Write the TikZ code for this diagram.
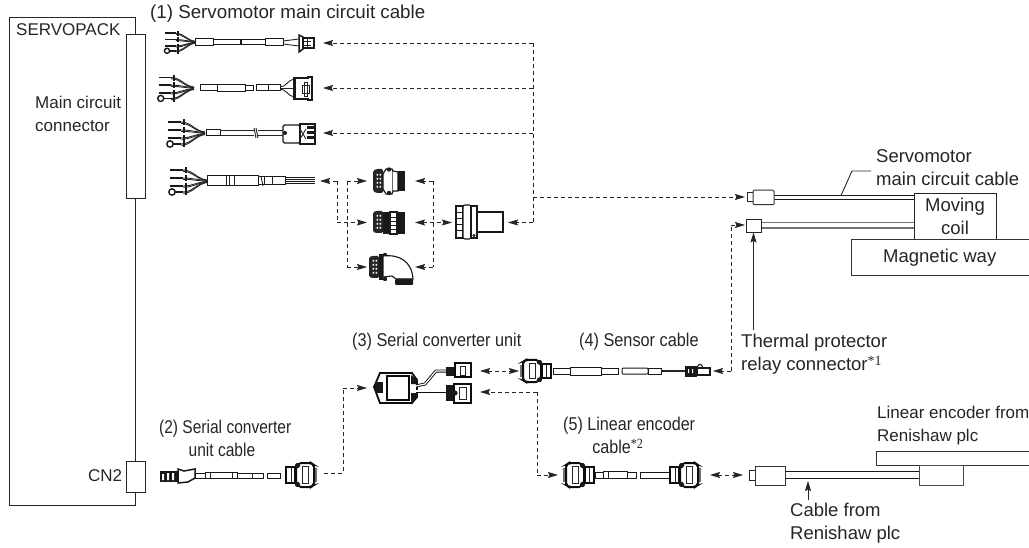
\documentclass[tikz,border=0pt]{standalone}
\usepackage{fontspec}
\setmainfont{Liberation Sans}
\newfontfamily\supfont{Liberation Serif}
\usetikzlibrary{arrows.meta}
\newcommand{\starmark}[1]{\raisebox{5.5pt}{\supfont\fontsize{14}{14}\selectfont *#1}}
\tikzset{
  lab/.style={inner sep=0pt,anchor=north west,align=left,text=black!85,font=\fontsize{18.5}{23}\selectfont},
  labs/.style={lab,font=\fontsize{17}{23}\selectfont},
  labn/.style={lab,xscale=#1,transform shape},
  box/.style={draw=black!85,line width=0.9pt,fill=white,inner sep=0pt},
  dashline/.style={draw=black!85,line width=0.9pt,dash pattern=on 4pt off 3pt},
  tip/.style={-{Stealth[length=10pt,width=6pt,inset=1.5pt]},draw=black!85,line width=0.9pt},
  tipdash/.style={dashline,-{Stealth[length=10pt,width=6pt,inset=1.5pt]}},
  tipboth/.style={dashline,{Stealth[length=10pt,width=6pt,inset=1.5pt]}-{Stealth[length=10pt,width=6pt,inset=1.5pt]}},
  wire/.style={draw=black!90,line width=1.8pt},
  thin/.style={draw=black!85,line width=0.9pt},
  tube/.style={draw=black!90,line width=1pt,fill=white},
}
% fan of four conductors that ends at the local origin
\newcommand{\wirefan}[3]{\begin{scope}[shift={(#1,#2)},scale=#3]
  \foreach \dy/\sy in {-11/-2,-3/-1,5/1,11/2}{
    \draw[thin] (-24,\dy) .. controls (-14,\dy) and (-10,\sy) .. (0,0.5*\sy);
    \draw[thin] (-24,\dy+1.3) .. controls (-14,\dy+1.3) and (-10,\sy+1) .. (0,0.5*\sy+0.5);
    \fill[black!90] (-22,\dy-3) rectangle (-19.8,\dy+3.5);
  }
  \foreach \dy in {-11,-3,5}{\draw[wire] (-37,\dy) -- (-24,\dy);}
  \draw[wire] (-32,11) -- (-24,11);
  \draw[line width=1.4pt,draw=black!90] (-35,11) circle (3.2);
\end{scope}}
% D-type connector; local origin at the middle of its left edge
\newcommand{\dconn}[4]{\begin{scope}[shift={(#1,#2)},xscale=#3,yscale=#4]
  \fill[black!55] (0,-7) rectangle (3,7);
  \draw[line width=2pt,draw=black!95,fill=white,rounded corners=2pt] (3,-10) -- (6,-12) -- (18,-12) -- (21,-8) -- (21,8) -- (18,12) -- (6,12) -- (3,10) -- cycle;
  \draw[line width=0.9pt,draw=black!85,fill=white] (9,-8.5) rectangle (15,8.5);
  \draw[line width=1.8pt,draw=black!95,fill=white] (22,-8) rectangle (31,8);
  \draw[line width=0.9pt,draw=black!85] (26,-8) -- (26,8);
  \fill[black!90] (19.5,-9.5) circle (2.6) (19.5,9.5) circle (2.6);
\end{scope}}
% block of contacts, facing left
\newcommand{\pinblock}[3]{\begin{scope}[shift={(#1,#2)}]
  \fill[black!85,rounded corners=1.5pt] (0,-10) -- (3,-#3) -- (10,-#3) -- (10,#3) -- (3,#3) -- (0,10) -- cycle;
  \foreach \yy in {-7,-3,1,5}{\fill[white] (3.5,\yy) rectangle (5,\yy+1.6) (6.5,\yy) rectangle (8,\yy+1.6);}
\end{scope}}
\begin{document}
\begin{tikzpicture}[x=1pt,y=-1pt]
\useasboundingbox (0,0) rectangle (1029,548);
\fill[white] (0,0) rectangle (1029,548);

% SERVOPACK
\node[box,fill=none,minimum width=126pt,minimum height=488pt] (servopack) at (72,261) {};
\node[box,minimum width=19pt,minimum height=164pt] (mainconn) at (135.5,116) {};
\node[box,minimum width=19pt,minimum height=31pt] (cn2) at (135.5,476.5) {};
\node[labs] (tservo) at (16,23) {SERVOPACK};
\node[labs] (tmain) at (35,96) {Main circuit\\connector};
\node[labs] (tcn2) at (88,469) {CN2};
\node[lab,font=\fontsize{18.75}{23}\selectfont] (t1) at (150,5) {(1) Servomotor main circuit cable};

% cable 1
\wirefan{195}{42}{0.8}
\draw[tube] (195,39) rectangle (213,46);
\draw[tube] (213,40) rectangle (240,45);
\draw[tube] (241,40) rectangle (265,45);
\draw[tube] (265,39) rectangle (283,46);
\draw[thin] (283,41) -- (299,39) (283,44) -- (299,46);
\draw[line width=1.5pt,draw=black!90,fill=white] (299,35) -- (303,37) -- (303,49) -- (299,52) -- cycle;
\draw[line width=1.2pt,draw=black!90,fill=white] (303,38) rectangle (314,48);
\draw[thin] (303,41) -- (311,41) (303,45) -- (311,45) (307,38) -- (307,48);
% cable 2
\wirefan{194}{88}{0.95}
\draw[tube] (200,85) rectangle (217,91);
\draw[tube] (217,84.5) rectangle (245,91.5);
\draw[tube] (245,85.5) rectangle (253,90.5);
\draw[tube] (256,85) rectangle (268,91);
\draw[tube] (268,85) rectangle (280,91);
\draw[thin] (280,87) .. controls (286,87) and (288,80) .. (294,79);
\draw[thin] (280,88) -- (294,88);
\draw[thin] (280,89) .. controls (286,89) and (288,96) .. (294,97);
\draw[line width=1.3pt,draw=black!90,fill=white] (294,78) -- (308,78) -- (308,77) -- (312,77) -- (312,100) -- (308,100) -- (308,99) -- (294,99) -- cycle;
\draw[thin] (302,85) rectangle (309,93);
\draw[thin] (304,82) rectangle (307,96);
\fill[black!90] (294,78) rectangle (296,99);
% cable 3
\wirefan{205}{133}{1}
\draw[tube] (206,130) rectangle (220,136);
\draw[draw=black!85,line width=1pt] (220,130.5) -- (254,130.5) (258,130.5) -- (283,130.5) (220,135.5) -- (254,135.5) (258,135.5) -- (283,135.5);
\draw[thin] (254,128) -- (256,138) (256,128) -- (258,138);
\draw[line width=1.2pt,draw=black!90,fill=white,rounded corners=1.5pt] (283,125) rectangle (300,143);
\fill[black!90] (285,133) circle (2);
\draw[line width=1.5pt,draw=black!90,fill=white] (300,124) rectangle (315,144);
\foreach \yy in {128,133,138}{\fill[black!90] (307,\yy-1.5) rectangle (315,\yy+1.5);}
\draw[thin] (300,129) -- (306,139) (300,139) -- (306,129);
% cable 4
\wirefan{207}{181}{1}
\draw[tube] (207,176) rectangle (226,186);
\draw[tube] (226,176) rectangle (258,186);
\draw[thin] (229,176) -- (229,186) (234,176) -- (234,186);
\draw[tube] (264,177) rectangle (285,185);
\draw[tube] (258,177) -- (264,177) (258,185) -- (264,185);
\draw[thin] (261,176) -- (263,186);
\draw[thin] (272,177) -- (272,185);
\foreach \yy in {177.5,179.5,181.5,183.5}{\draw[line width=0.9pt,draw=black!90] (285,\yy) -- (315,\yy);}

% middle connectors
\pinblock{373}{181}{12}
\draw[line width=1.2pt,draw=black!90,fill=white] (383,174) -- (386,169) -- (392,169) -- (393,171) -- (393,191) -- (392,194) -- (386,194) -- (383,189) -- cycle;
\fill[black!90] (389,169.5) circle (2.2) (389,193) circle (2.2);
\draw[line width=1.2pt,draw=black!90,fill=white] (393,171) -- (398,172) -- (398,191) -- (393,191);
\fill[black!90] (398,171) rectangle (405,191);
\pinblock{373}{222}{11}
\fill[black!90] (383,212) rectangle (390,234);
\draw[line width=1.1pt,draw=black!90,fill=white] (390,212) rectangle (397,234);
\foreach \yy in {217,221,225,229}{\draw[thin] (390,\yy) -- (397,\yy);}
\fill[black!90] (397,212) rectangle (405,234);
\pinblock{369}{267}{11}
\fill[black!90] (379,254) rectangle (383,280);
\fill[black!90] (385,255) circle (2.2) (385,279) circle (2.2);
\draw[line width=1.1pt,draw=black!90,fill=white] (383,256) .. controls (400,254) and (412,262) .. (413,279) -- (396,279) -- (392,276) -- (383,277) -- cycle;
\fill[black!90,rounded corners=1pt] (395,279) rectangle (413,285);
% big connector
\draw[line width=1.1pt,draw=black!90,fill=white] (477,212) rectangle (503,232);
\draw[line width=1.1pt,draw=black!90,fill=white] (456,206) rectangle (463,238);
\foreach \yy in {212,218,224,230}{\draw[line width=0.9pt,draw=black!90] (456,\yy) -- (463,\yy);}
\draw[line width=1.1pt,draw=black!90,fill=white,rounded corners=2pt] (463,205) rectangle (471,239);
\draw[line width=1.1pt,draw=black!90,fill=white] (471,206) rectangle (477,238);
\fill[black!90] (474,235.5) circle (1.7);

% connector end points
\coordinate (bus1) at (533,43);
\coordinate (bus2) at (533,88);
\coordinate (bus3) at (533,133);
\coordinate (bus4) at (533,197);
\coordinate (bus5) at (533,222.5);
\coordinate (e1) at (323,43);
\coordinate (e2) at (323,88);
\coordinate (e3) at (323,133);
\coordinate (e4) at (320,181);
\coordinate (j1) at (337,181);
\coordinate (j2) at (337,222.5);
\coordinate (a1) at (367,181);
\coordinate (a2) at (367,222.5);
\coordinate (a3) at (367,267);
\coordinate (b0) at (347,181);
\coordinate (b3) at (347,267);
\coordinate (c1) at (415,181);
\coordinate (c2) at (415,222.5);
\coordinate (c3) at (415,267);
\coordinate (d1) at (433,181);
\coordinate (d3) at (433,267);
\coordinate (big) at (452,222.5);
\coordinate (bigr) at (508,222.5);
\coordinate (mcplug) at (745,197);

% dashed lines, main circuit
\draw[tipdash] (bus1) -- (e1);
\draw[tipdash] (bus2) -- (e2);
\draw[tipdash] (bus3) -- (e3);
\draw[dashline] (bus1) -- (bus5);
\draw[tipdash] (bus5) -- (bigr);
\draw[tipdash] (bus4) -- (mcplug);
\draw[tipdash] (j1) -- (e4);
\draw[dashline] (j1) -- (j2);
\draw[tipdash] (j2) -- (a2);
\draw[tipdash] (b0) -- (a1);
\draw[dashline] (b0) -- (b3);
\draw[tipdash] (b3) -- (a3);
\draw[tipdash] (d1) -- (c1);
\draw[dashline] (d1) -- (d3);
\draw[tipdash] (d3) -- (c3);
\draw[tipboth] (c2) -- (big);

% moving coil and magnetic way
\draw[line width=1pt,draw=black!90] (774,195.5) -- (914,195.5) (774,200) -- (914,200);
\draw[line width=1.3pt,draw=black!55] (762,222.5) -- (914,222.5) (762,228) -- (914,228);
\node[box,minimum width=82pt,minimum height=46pt,align=center,font=\fontsize{18.5}{23}\selectfont,text=black!85] (coil) at (955,216) {Moving\\coil};
\draw[draw=black!80,line width=0.9pt] (1029,239) -- (851,239) -- (851,275.5) -- (1029,275.5);
\node[lab] (tway) at (883,249) {Magnetic way};
\draw[line width=1pt,draw=black!85] (747,193) rectangle (753,202);
\node[draw=black!80,line width=1pt,fill=white,rounded corners=1pt,minimum width=21pt,minimum height=14.5pt,inner sep=0pt] (mcp) at (763.5,197.5) {};
\node[box,minimum width=15.5pt,minimum height=13pt] (relay) at (754,225.5) {};
\node[lab] (tmc) at (876,149) {Servomotor\\main circuit cable};
\coordinate (lead0) at (841,195.5);
\coordinate (lead1) at (852,171);
\coordinate (lead2) at (871,171);
\draw[line width=0.9pt,draw=black!85] (lead0) -- (lead1) -- (lead2);
\node[lab] (ttp) at (741,334) {Thermal protector\\relay connector\starmark{1}};
\coordinate (tpfoot) at (753.5,330);
\draw[tip] (tpfoot) -- (relay.south -| tpfoot);

% serial converter unit
\draw[line width=1.8pt,draw=black!95,fill=white] (374,387) -- (380,373) -- (412,373) -- (417,380) -- (417,397) -- (412,403) -- (380,403) -- cycle;
\fill[black!90] (375,382) rectangle (383,393);
\draw[line width=2.2pt,draw=black!95,fill=white] (387,376) rectangle (409,400);
\fill[black!90] (411,375) -- (417,380) -- (417,384) -- (411,384) -- cycle (411,393) -- (417,393) -- (417,397) -- (411,402) -- cycle;
\draw[line width=3pt,draw=black!95] (416,386) -- (425,384) -- (436,371) -- (446,371);
\draw[line width=1.2pt,draw=white] (416,386) -- (425,384) -- (436,371) -- (446,371);
\draw[line width=3pt,draw=black!95] (416,391) -- (446,391);
\draw[line width=1.2pt,draw=white] (416,391) -- (446,391);
\fill[black!90] (446,367) rectangle (455,376);
\draw[line width=2pt,draw=black!95,fill=white] (455,363) rectangle (471,377);
\draw[thin] (460,366) rectangle (465,375);
\fill[black!90] (446,385) rectangle (454,401);
\draw[line width=2pt,draw=black!95,fill=white] (454,384) rectangle (471,403);
\draw[thin] (459,387) rectangle (466,399);
\fill[black!90] (455,393) circle (2.6);
\node[labn=0.88] (t3) at (352,333) {(3) Serial converter unit};

% sensor cable
\dconn{520}{371}{1}{0.92}
\draw[tube] (553,368) rectangle (570,374);
\draw[tube] (570,367) rectangle (601,375);
\draw[tube] (601,368) rectangle (618,374);
\draw[tube,rounded corners=1pt] (622,368) rectangle (648,374);
\draw[tube] (648,368) rectangle (661,374);
\draw[line width=1.1pt,draw=black!85] (661,371) -- (685,371);
\fill[black!90] (685,366) rectangle (697,377);
\fill[white] (688,369) rectangle (689,373) (692,369) rectangle (693,373);
\draw[line width=1.1pt,draw=black!90,fill=white] (697,368) rectangle (710,375);
\draw[line width=1.1pt,draw=black!90] (697,368) .. controls (698,363) and (702,363) .. (703,368);
\node[labn=0.88] (t4) at (579,333) {(4) Sensor cable};

% dashed lines, sensor side
\coordinate (s1) at (480,371);
\coordinate (s2) at (519,371);
\coordinate (s3) at (480,392);
\coordinate (s4) at (537,392);
\coordinate (s5) at (537,475);
\coordinate (s6) at (558,475);
\coordinate (t1a) at (713,371);
\coordinate (t1b) at (731,371);
\coordinate (t1c) at (731,225);
\coordinate (t1d) at (745,225);
\draw[tipboth] (s1) -- (s2);
\draw[tipdash] (s4) -- (s3);
\draw[dashline] (s4) -- (s5);
\draw[tipdash] (s5) -- (s6);
\draw[tipdash] (t1b) -- (t1a);
\draw[dashline] (t1b) -- (t1c);
\draw[tipdash] (t1c) -- (t1d);

% serial converter unit cable
\fill[black!90] (160,471) rectangle (178,482);
\fill[white] (162,474) rectangle (164,480) (167,473) rectangle (169,480) (172,473) rectangle (174,480);
\draw[line width=1.5pt,draw=black!90,fill=white] (178,469) -- (184,471) -- (195,469) -- (195,478) -- (188,482) -- (178,483) -- cycle;
\draw[tube] (195,473) rectangle (205,478);
\draw[tube] (205,472.5) rectangle (237,478.5);
\draw[thin] (210,472.5) -- (210,478.5) (232,472.5) -- (232,478.5);
\draw[tube] (237,473) rectangle (263,478);
\draw[thin] (252,473) -- (252,478);
\draw[tube] (267,473) rectangle (280,478);
\dconn{317}{475}{-1}{1}
\coordinate (f1) at (324,473);
\coordinate (f2) at (343,473);
\coordinate (f3) at (343,388);
\coordinate (f4) at (367,388);
\draw[dashline] (f1) -- (f2) -- (f3);
\draw[tipdash] (f3) -- (f4);
\node[labn=0.84] (t2) at (159,420) {(2) Serial converter\\\hspace*{1.9em}unit cable};

% linear encoder cable
\dconn{563}{475}{1}{1}
\draw[tube] (595,472) rectangle (603,478);
\draw[tube] (603,471.5) rectangle (627,478.5);
\draw[thin] (608,471.5) -- (608,478.5);
\draw[tube] (627,472) rectangle (636,478);
\draw[tube] (640,472) rectangle (672,478);
\dconn{701}{475}{-1}{1}
\node[labn=0.873] (t5) at (563,417) {(5) Linear encoder\\\hspace*{1.8em}cable\starmark{2}};
\coordinate (g1) at (710,475);
\coordinate (g2) at (743,475);
\draw[tipboth] (g1) -- (g2);

% linear encoder
\draw[line width=1pt,draw=black!85] (749,470) rectangle (755,480);
\node[draw=black!80,line width=1pt,fill=white,minimum width=30pt,minimum height=19pt,inner sep=0pt] (lplug) at (770,475.5) {};
\draw[line width=1pt,draw=black!90] (785,471) -- (919,471) (785,478) -- (919,478);
\draw[line width=0.9pt,draw=black!80] (1029,451) -- (876,451) -- (876,465) -- (1029,465);
\node[box,draw=black!70,minimum width=44pt,minimum height=20pt] (lhead) at (941,475) {};
\coordinate (cfoot) at (808,500);
\coordinate (chead) at (808,481);
\draw[tip] (cfoot) -- (chead);
\node[lab] (tcable) at (790,503) {Cable from\\Renishaw plc};
\node[labs] (tenc) at (877,406) {Linear encoder from\\Renishaw plc};
\end{tikzpicture}
\end{document}
